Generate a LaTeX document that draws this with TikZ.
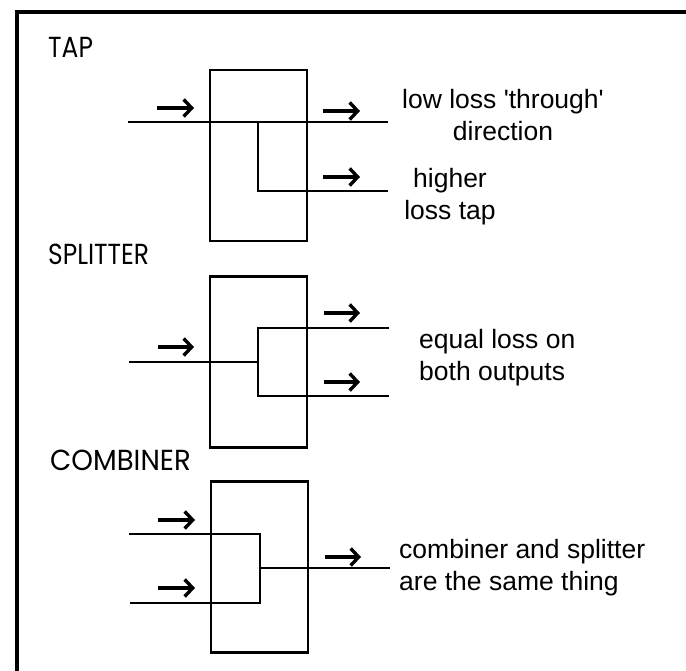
\documentclass[tikz,border=0pt]{standalone}
\usepackage{fontspec}
\setmainfont{Liberation Sans}
\newfontfamily\headfont{Poppins}
\usetikzlibrary{arrows.meta}
\tikzset{%
	device/.style   = {draw, rectangle, line width=2.2pt, minimum width=97pt, minimum height=171pt, inner sep=0pt},
	wire/.style     = {line width=1.1pt},
	flow/.style     = {line width=3.2pt, -{Straight Barb[length=8pt,width=17pt,line width=3.4pt]}},
	heading/.style  = {anchor=west, inner sep=0pt, font=\headfont\fontsize{29}{32}\selectfont},
	remark/.style   = {inner sep=0pt, font=\fontsize{26.5}{32}\selectfont},
}
\begin{document}
\begin{tikzpicture}[x=1pt,y=-1pt]
	\useasboundingbox (0,0) rectangle (686,671);
	\coordinate (framesw) at (17,671);
	\coordinate (framenw) at (17,12);
	\coordinate (framene) at (686,12);
	\draw[line width=3.1pt] (framesw) -- (framenw) -- (framene);

	% tap
	\node[heading] (taphead) at (48,47) {\scalebox{.86}[1]{TAP}};
	\node[device] (tapbox) at (258.5,155.5) {};
	\coordinate (tapin) at (128,122);
	\coordinate (tapthru) at (388,122);
	\coordinate (tapturn) at (258,122);
	\coordinate (tapcorner) at (258,191);
	\coordinate (tapout) at (388,191);
	\draw[wire] (tapin) -- (tapthru);
	\draw[wire] (tapturn) -- (tapcorner) -- (tapout);
	\coordinate (tapa) at (157,108);
	\coordinate (tapb) at (194,108);
	\coordinate (tapc) at (323,111);
	\coordinate (tapd) at (360,111);
	\coordinate (tape) at (323,177);
	\coordinate (tapf) at (360,177);
	\draw[flow] (tapa) -- (tapb);
	\draw[flow] (tapc) -- (tapd);
	\draw[flow] (tape) -- (tapf);
	\node[remark,align=center] (tapnote) at (503,115) {low loss \textquotesingle through\textquotesingle\\direction};
	\node[remark,align=center] (tapnoteb) at (450,197) {higher\\loss tap};

	% splitter
	\node[heading] (splithead) at (48,254) {\scalebox{.86}[1]{SPLITTER}};
	\node[device] (splitbox) at (258.5,362) {};
	\coordinate (splitin) at (129,362);
	\coordinate (splitmid) at (258,362);
	\coordinate (splitup) at (258,328);
	\coordinate (splitdown) at (258,396);
	\coordinate (splitouta) at (389,328);
	\coordinate (splitoutb) at (389,396);
	\draw[wire] (splitin) -- (splitmid);
	\draw[wire] (splitouta) -- (splitup) -- (splitdown) -- (splitoutb);
	\coordinate (splita) at (158,347);
	\coordinate (splitb) at (194,347);
	\coordinate (splitc) at (324,313);
	\coordinate (splitd) at (360,313);
	\coordinate (splite) at (324,382);
	\coordinate (splitf) at (360,382);
	\draw[flow] (splita) -- (splitb);
	\draw[flow] (splitc) -- (splitd);
	\draw[flow] (splite) -- (splitf);
	\node[remark,align=left,anchor=west] (splitnote) at (419,358) {equal loss on\\both outputs};

	% combiner
	\node[heading] (combhead) at (50,460) {\scalebox{.95}[1]{COMBINER}};
	\node[device] (combbox) at (259.5,567) {};
	\coordinate (combina) at (129,534);
	\coordinate (combinb) at (130,603);
	\coordinate (combup) at (260,534);
	\coordinate (combdown) at (260,603);
	\coordinate (combmid) at (260,568);
	\coordinate (combout) at (390,568);
	\draw[wire] (combina) -- (combup) -- (combdown) -- (combinb);
	\draw[wire] (combmid) -- (combout);
	\coordinate (comba) at (158,520);
	\coordinate (combb) at (195,520);
	\coordinate (combc) at (158,588);
	\coordinate (combd) at (195,588);
	\coordinate (combe) at (325,557);
	\coordinate (combf) at (361,557);
	\draw[flow] (comba) -- (combb);
	\draw[flow] (combc) -- (combd);
	\draw[flow] (combe) -- (combf);
	\node[remark,align=left,anchor=west] (combnote) at (399,568) {combiner and splitter\\are the same thing};
\end{tikzpicture}
\end{document}
